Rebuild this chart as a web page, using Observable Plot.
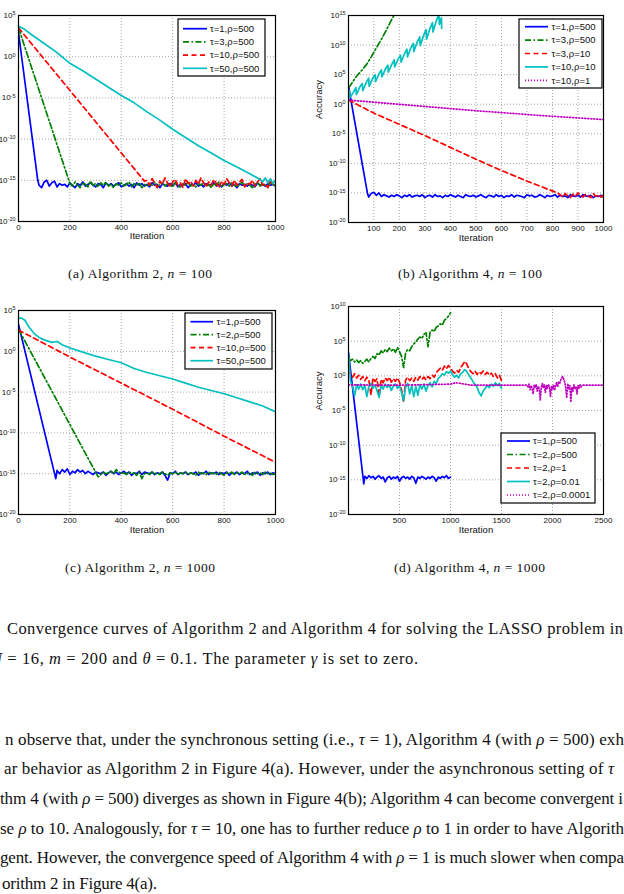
<!DOCTYPE html>
<html><head><meta charset="utf-8">
<script src="https://cdn.jsdelivr.net/npm/d3@7"></script>
<script src="https://cdn.jsdelivr.net/npm/@observablehq/plot@0.6"></script>
<style>
html,body{margin:0;padding:0;background:#fff;}
#page{position:relative;width:624px;height:894px;overflow:hidden;background:#fff;}
.panel{position:absolute;}
#txt{position:absolute;left:0;top:0;}
#txt text{font-family:"Liberation Serif","Times New Roman",serif;fill:#111;}
</style></head><body>
<div id="page">
<svg id="txt" width="624" height="894">
  <text x="68" y="278" font-size="13.5" textLength="144" lengthAdjust="spacing">(a)  Algorithm 2, <tspan font-style="italic">n</tspan> = 100</text>
  <text x="398" y="278" font-size="13.5" textLength="144" lengthAdjust="spacing">(b)  Algorithm 4, <tspan font-style="italic">n</tspan> = 100</text>
  <text x="65" y="572" font-size="13.5" textLength="150" lengthAdjust="spacing">(c)  Algorithm 2, <tspan font-style="italic">n</tspan> = 1000</text>
  <text x="394" y="572" font-size="13.5" textLength="151" lengthAdjust="spacing">(d)  Algorithm 4, <tspan font-style="italic">n</tspan> = 1000</text>
  <text x="7" y="634" font-size="16.5" textLength="616" lengthAdjust="spacing">Convergence curves of Algorithm 2 and Algorithm 4 for solving the LASSO problem in</text>
  <text x="-9" y="664" font-size="16.5" textLength="427" lengthAdjust="spacing"><tspan font-style="italic">N</tspan> = 16, <tspan font-style="italic">m</tspan> = 200 and <tspan font-style="italic">θ</tspan> = 0.1. The parameter <tspan font-style="italic">γ</tspan> is set to zero.</text>
  <text x="5" y="745" font-size="17" textLength="619" lengthAdjust="spacing">n observe that, under the synchronous setting (i.e., <tspan font-style="italic">τ</tspan> = 1), Algorithm 4 (with <tspan font-style="italic">ρ</tspan> = 500) exh</text>
  <text x="4" y="774" font-size="17" textLength="610" lengthAdjust="spacing">ar behavior as Algorithm 2 in Figure 4(a). However, under the asynchronous setting of <tspan font-style="italic">τ</tspan></text>
  <text x="0" y="804" font-size="17" textLength="623" lengthAdjust="spacing">thm 4 (with <tspan font-style="italic">ρ</tspan> = 500) diverges as shown in Figure 4(b); Algorithm 4 can become convergent i</text>
  <text x="0" y="834" font-size="17" textLength="624" lengthAdjust="spacing">se <tspan font-style="italic">ρ</tspan> to 10. Analogously, for <tspan font-style="italic">τ</tspan> = 10, one has to further reduce <tspan font-style="italic">ρ</tspan> to 1 in order to have Algorith</text>
  <text x="0" y="863" font-size="17" textLength="624" lengthAdjust="spacing">gent. However, the convergence speed of Algorithm 4 with <tspan font-style="italic">ρ</tspan> = 1 is much slower when compa</text>
  <text x="2" y="889" font-size="17" textLength="155" lengthAdjust="spacing">orithm 2 in Figure 4(a).</text>
</svg>
</div>
<script>
// ===== DATA (values are log10 of Accuracy; iterations on x) =====
const noiseStep = 10;
const noiseStepD = 20;

// Panel (a): Algorithm 2, n = 100
const aXTicks = [0, 200, 400, 600, 800, 1000];
const aYTicks = [-20, -15, -10, -5, 0, 5];
const aLabels = ["τ=1,ρ=500", "τ=3,ρ=500", "τ=10,ρ=500", "τ=50,ρ=500"];
const a1Trend = [[0, 2.9], [75, -15.0]];
const a1NoiseStart = 80;
const a1Noise = [-15.6,-15.9,-15.2,-15.0,-15.7,-15.3,-15.1,-15.8,-15.4,-15.6,
  -15.5,-15.8,-15.3,-15.6,-15.9,-15.4,-15.6,-15.2,-15.7,-15.5,
  -15.3,-15.6,-15.8,-15.4,-15.5,-15.9,-15.3,-15.6,-15.4,-15.7,
  -15.5,-15.3,-15.8,-15.6,-15.4,-15.7,-15.5,-15.9,-15.3,-15.6,
  -15.4,-15.7,-15.5,-15.8,-15.3,-15.6,-15.5,-15.9,-15.4,-15.6,
  -15.7,-15.4,-15.6,-15.3,-15.8,-15.5,-15.6,-15.4,-15.9,-15.5,
  -15.6,-15.3,-15.7,-15.5,-15.8,-15.4,-15.6,-15.5,-15.3,-15.7,
  -15.5,-15.8,-15.4,-15.6,-15.3,-15.7,-15.5,-15.9,-15.4,-15.6,
  -15.5,-15.7,-15.4,-15.6,-15.8,-15.3,-15.6,-15.5,-15.7,-15.4,
  -15.6,-15.5,-15.7];
const a2Trend = [[0, 3.5], [200, -15.4]];
const a2NoiseStart = 210;
const a2Noise = [-15.7,-15.2,-15.6,-15.9,-15.3,-15.5,-15.8,-15.1,-15.6,-15.4,
  -15.8,-15.3,-15.6,-15.2,-15.7,-15.5,-15.9,-15.4,-15.6,-15.3,
  -15.7,-15.5,-15.2,-15.8,-15.4,-15.6,-15.3,-15.9,-15.5,-15.7,
  -15.4,-15.6,-15.2,-15.8,-15.5,-15.3,-15.7,-15.4,-15.6,-15.8,
  -15.3,-15.5,-15.9,-15.4,-15.6,-15.2,-15.7,-15.5,-15.8,-15.4,
  -15.6,-15.3,-15.7,-15.5,-15.9,-15.4,-15.6,-15.2,-15.8,-15.5,
  -15.4,-15.7,-15.3,-15.6,-15.8,-15.5,-15.2,-15.7,-15.4,-15.6,
  -15.9,-15.5,-15.3,-15.7,-15.4,-15.6,-15.8,-15.3,-15.5,-15.7];
const a3Trend = [[0, 3.5], [490, -15.1]];
const a3NoiseStart = 500;
const a3Noise = [-15.0,-15.6,-14.8,-15.4,-15.9,-15.1,-15.5,-14.7,-15.3,-15.8,
  -15.2,-14.9,-15.6,-15.3,-15.9,-14.8,-15.4,-15.1,-15.7,-15.0,
  -15.5,-14.7,-15.3,-15.8,-15.2,-15.6,-14.9,-15.4,-15.9,-15.1,
  -15.5,-14.8,-15.3,-15.7,-15.0,-15.6,-15.2,-14.9,-15.8,-15.3,
  -15.5,-15.0,-15.7,-15.2,-14.8,-15.6,-15.4,-15.9,-15.1,-15.5,
  -15.3];
const a4Trend = [[0,3.7],[20,3.4],[50,2.7],[100,1.6],[150,0.5],[200,-0.8],[250,-1.7],[300,-2.7],[350,-3.7],[400,-4.7],[450,-5.6],[500,-6.7],[550,-7.7],[600,-8.8],[650,-9.8],[700,-10.8],[750,-11.7],[800,-12.6],[850,-13.4],[900,-14.2],[940,-14.9]];
const a4NoiseStart = 950;
const a4Noise = [-15.2,-14.7,-15.3,-14.8,-15.4,-15.0];

// Panel (b): Algorithm 4, n = 100
const bXTicks = [100, 200, 300, 400, 500, 600, 700, 800, 900, 1000];
const bYTicks = [-20, -15, -10, -5, 0, 5, 10, 15];
const bLabels = ["τ=1,ρ=500", "τ=3,ρ=500", "τ=3,ρ=10", "τ=10,ρ=10", "τ=10,ρ=1"];
const b1Trend = [[1, 3.0], [75, -15.0]];
const b1NoiseStart = 80;
const b1Noise = [-15.7,-15.1,-14.9,-15.4,-15.0,-15.6,-15.3,-15.5,-15.7,-15.4,
  -15.6,-15.3,-15.5,-15.8,-15.4,-15.6,-15.3,-15.7,-15.5,-15.4,
  -15.6,-15.3,-15.8,-15.5,-15.4,-15.7,-15.3,-15.6,-15.5,-15.8,
  -15.4,-15.6,-15.3,-15.5,-15.7,-15.4,-15.6,-15.8,-15.3,-15.5,
  -15.6,-15.4,-15.7,-15.5,-15.3,-15.6,-15.8,-15.4,-15.5,-15.7,
  -15.3,-15.6,-15.4,-15.8,-15.5,-15.6,-15.3,-15.7,-15.4,-15.5,
  -15.6,-15.8,-15.3,-15.5,-15.4,-15.7,-15.6,-15.3,-15.5,-15.8,
  -15.4,-15.6,-15.5,-15.3,-15.7,-15.4,-15.6,-15.5,-15.8,-15.3,
  -15.5,-15.6,-15.4,-15.7,-15.3,-15.5,-15.6,-15.4,-15.8,-15.5,
  -15.6,-15.4,-15.7];
const b2Trend = [[1,2.8],[10,3.3],[30,4.6],[50,5.6],[70,6.6],[90,8.0],[110,9.5],[130,11.0],[150,12.6],[170,14.3],[190,15.9]];
const b3Trend = [[1,0.7],[100,-1.5],[200,-3.4],[300,-5.3],[400,-7.3],[500,-9.3],[600,-11.2],[700,-13.0],[820,-15.0]];
const b3NoiseStart = 830;
const b3Noise = [-15.3,-15.7,-15.1,-15.5,-15.8,-15.2,-15.6,-15.0,-15.4,-15.7,-15.2,-15.5,-15.8,-15.1,-15.6,-15.3,-15.7,-15.4];
const b4Trend = [[1,1.0],[5,2.3],[8,1.2],[20,2.0],[30,2.8],[32,1.6],[45,2.9],[55,3.5],[57,2.3],[70,3.6],[80,4.4],[82,3.0],[95,4.3],[105,5.0],[107,3.8],[120,5.1],[130,5.8],[132,4.6],[145,5.9],[155,6.6],[157,5.4],[170,6.7],[180,7.5],[182,6.3],[195,7.6],[205,8.3],[207,7.1],[220,8.5],[230,9.3],[232,8.0],[245,9.5],[255,10.3],[257,8.9],[270,10.5],[280,11.4],[282,9.9],[295,11.6],[305,12.6],[307,11.0],[320,12.8],[330,13.8],[332,12.2],[345,14.1],[355,15.2],[357,13.5],[365,14.6],[366,12.8]];
const b5Trend = [[1,0.7],[250,-0.2],[500,-1.1],[750,-1.9],[1000,-2.6]];

// Panel (c): Algorithm 2, n = 1000
const cXTicks = [0, 200, 400, 600, 800, 1000];
const cYTicks = [-20, -15, -10, -5, 0, 5];
const cLabels = ["τ=1,ρ=500", "τ=2,ρ=500", "τ=10,ρ=500", "τ=50,ρ=500"];
const c1Trend = [[0, 3.3], [145, -15.6]];
const c1NoiseStart = 150;
const c1Noise = [-14.6,-15.0,-14.5,-14.8,-14.4,-15.1,-14.7,-14.9,-14.5,-14.8,
  -14.6,-15.0,-14.7,-14.9,-15.1,-14.8,-14.9,-15.0,-14.8,-15.2,
  -14.9,-14.7,-15.0,-14.8,-15.1,-14.9,-14.7,-15.0,-14.8,-15.2,
  -14.9,-15.0,-14.7,-15.1,-14.8,-14.9,-15.0,-14.8,-15.1,-14.9,
  -15.0,-14.8,-15.2,-15.8,-14.9,-15.0,-14.7,-15.1,-14.9,-15.0,
  -14.8,-15.1,-14.9,-15.0,-14.8,-15.2,-14.9,-15.0,-14.7,-15.1,
  -14.9,-15.0,-14.8,-15.1,-14.9,-15.0,-14.8,-15.2,-14.9,-15.0,
  -14.8,-15.1,-14.9,-15.0,-14.7,-15.1,-14.9,-15.0,-14.8,-15.2,
  -14.9,-15.0,-14.8,-15.1,-14.9,-15.0];
const c2Trend = [[0, 2.7], [310, -15.4]];
const c2NoiseStart = 320;
const c2Noise = [-15.1,-14.8,-15.0,-14.9,-14.7,-15.0,-14.5,-14.8,-15.0,-14.9,
  -15.1,-14.8,-15.0,-14.9,-15.2,-14.8,-15.6,-15.0,-14.9,-15.1,
  -14.8,-15.0,-14.9,-15.1,-14.8,-15.0,-15.2,-14.9,-15.0,-14.8,
  -15.1,-14.9,-15.0,-14.8,-15.1,-14.9,-15.0,-15.2,-14.8,-15.0,
  -14.9,-15.1,-14.8,-15.0,-14.9,-15.1,-14.8,-15.0,-15.2,-14.9,
  -15.0,-14.8,-15.1,-14.9,-15.0,-14.8,-15.1,-15.0,-14.9,-15.2,
  -14.8,-15.0,-14.9,-15.1,-14.8,-15.0,-14.9,-15.1,-15.0];
const c3Trend = [[0,2.6],[200,-0.7],[400,-3.9],[600,-7.1],[800,-10.4],[1000,-13.6]];
const c4Trend = [[0,4.0],[10,4.1],[25,3.8],[40,3.0],[60,2.2],[80,1.7],[100,1.4],[130,1.1],[150,1.2],[170,0.8],[200,0.4],[250,-0.1],[300,-0.6],[350,-1.0],[400,-1.4],[450,-2.1],[500,-2.6],[550,-3.0],[600,-3.4],[650,-3.9],[700,-4.4],[750,-4.8],[800,-5.2],[850,-5.7],[900,-6.2],[950,-6.7],[1000,-7.4]];

// Panel (d): Algorithm 4, n = 1000
const dXTicks = [500, 1000, 1500, 2000, 2500];
const dYTicks = [-20, -15, -10, -5, 0, 5, 10];
const dLabels = ["τ=1,ρ=500", "τ=2,ρ=500", "τ=2,ρ=1", "τ=2,ρ=0.01", "τ=2,ρ=0.0001"];
const d1Trend = [[0, 3.3], [150, -15.6]];
const d1NoiseStart = 160;
const d1Noise = [-14.5,-14.8,-14.4,-14.7,-14.5,-14.9,-14.6,-14.4,-14.8,-14.6,-15.3,-14.7,-14.5,-14.9,-14.6,-14.8,-14.5,-15.2,-14.7,-14.5,-14.8,-14.6,-14.9,-14.5,-14.7,-15.5,-14.6,-14.8,-14.5,-14.7,-14.9,-14.6,-14.8,-14.5,-14.7,-15.2,-14.6,-14.8,-14.5,-14.7,-14.4,-14.8,-14.6];
const d2NoiseStart = 0;
const d2Noise = [2.6,2.2,2.4,2.0,2.3,1.9,2.2,1.8,2.1,2.4,2.0,2.5,2.8,2.5,3.2,3.0,3.6,3.3,3.8,3.5,4.0,3.6,3.9,3.4,4.1,3.5,2.8,1.2,3.3,3.8,3.6,4.2,4.6,4.9,5.3,5.6,5.4,6.0,6.2,4.2,6.3,6.6,6.4,7.0,7.2,7.5,7.3,8.0,8.3,8.6,9.1];
const d3NoiseStart = 0;
const d3Noise = [1.0,0.4,-0.2,0.3,-0.3,0.1,-0.5,-0.1,-0.7,-0.2,-0.6,-2.8,-0.3,-0.8,-0.4,-3.0,-0.5,-1.0,-0.3,-0.7,-0.2,-0.9,-0.4,-0.8,-0.3,-0.9,-2.0,-3.8,-0.6,-0.2,-0.7,-0.3,-0.8,-0.2,-0.6,-0.1,-0.5,-0.2,-0.6,-0.1,-0.4,0.1,-0.2,0.4,0.8,1.1,0.8,1.4,1.0,1.5,1.1,0.7,0.4,0.8,0.5,1.2,1.6,2.1,1.7,1.0,0.6,0.3,0.7,0.2,0.6,0.3,0.7,0.2,0.5,0.1,0.4,-0.1,0.3,-0.3,0.1,-0.7];
const d4NoiseStart = 0;
const d4Noise = [3.4,-0.8,-1.5,-2.9,-1.3,-1.9,-1.2,-2.0,-1.4,-3.0,-1.5,-1.1,-1.8,-1.3,-2.2,-3.1,-1.4,-1.9,-1.2,-1.7,-1.3,-2.1,-1.5,-1.2,-1.8,-1.4,-2.4,-3.6,-1.6,-1.1,-2.6,-1.4,-3.0,-1.5,-2.8,-1.3,-1.9,-1.2,-2.2,-1.4,-1.0,-1.6,-0.8,-1.1,-0.4,-0.1,0.3,0.1,0.6,0.4,0.7,0.2,-0.2,0.1,-0.3,0.3,0.5,0.9,0.6,0.1,-0.3,-0.8,-1.2,-1.6,-2.4,-2.9,-2.2,-1.8,-1.4,-1.7,-1.2,-1.5,-1.0,-1.4,-1.1,-1.8];
const d5Trend = [[0,-1.3],[500,-1.35],[1000,-1.2],[1050,-1.0],[1100,-1.1],[1200,-1.35],[1750,-1.35]];
const d5NoiseStart = 1760;
const d5Noise = [-1.6,-1.2,-2.0,-1.4,-1.8,-2.6,-1.3,-1.7,-1.2,-2.2,-1.5,-1.9,-3.5,-1.6,-1.1,-1.7,-1.3,-2.4,-1.4,-1.8,-1.2,-1.6,-3.0,-1.5,-1.9,-1.3,-2.1,-1.4,-1.0,-1.6,-0.8,-1.2,-0.6,-0.3,-0.1,-0.5,-0.9,-1.8,-3.2,-1.1,-2.0,-1.4,-3.8,-1.6,-2.2,-1.3,-1.9,-1.5,-2.6,-1.4,-1.8,-1.3,-1.6,-1.4];
const d5Tail = [[2300,-1.35],[2500,-1.35]];

// ===== helpers =====
const seq = (start, step, vals) => vals.map((v, i) => [start + i * step, v]);
const COLORS = ["#0000ff", "#008000", "#ff0000", "#00bfbf", "#bf00bf"];
const DASHES = [null, "6,2.5,1.5,2.5", "5,3.5", null, "1,2"];
const SANS = "'Liberation Sans', Arial, Helvetica, sans-serif";

function makePanel(cfg) {
  const lineMarks = cfg.series.map((s, i) => {
    const o = {x: d => d[0], y: d => d[1], stroke: COLORS[i], strokeWidth: 1.7, clip: true};
    if (DASHES[i]) o.strokeDasharray = DASHES[i];
    return Plot.line(s, o);
  });
  const marks = [
    Plot.ruleX(cfg.xTicks, {stroke: "#8f8f8f", strokeDasharray: "1,2", strokeWidth: 0.8}),
    Plot.ruleY(cfg.yTicks, {stroke: "#8f8f8f", strokeDasharray: "1,2", strokeWidth: 0.8}),
    ...lineMarks,
    Plot.frame({stroke: "#000", strokeWidth: 1.2}),
    Plot.text(["Iteration"], {text: d => d, frameAnchor: "bottom", dy: cfg.xLabelDy, fontSize: 9.5})
  ];
  if (cfg.yLabel) marks.push(Plot.text([cfg.yLabel], {text: d => d, frameAnchor: "left", dx: -30, rotate: -90, fontSize: 9.5}));
  const plot = Plot.plot({
    width: cfg.width, height: cfg.height,
    marginLeft: cfg.m[3], marginRight: cfg.m[1], marginTop: cfg.m[0], marginBottom: cfg.m[2],
    style: {fontFamily: SANS, fontSize: "8px", background: "transparent", color: "#111"},
    x: {domain: cfg.xDomain, ticks: cfg.xTicks, tickFormat: d => String(d), tickSize: 0, tickPadding: 3, label: null},
    y: {domain: cfg.yDomain, ticks: cfg.yTicks, tickFormat: d => "10^" + d, tickSize: 0, tickPadding: 3, label: null},
    marks
  });
  const svg = d3.select(plot);
  svg.selectAll("text").each(function () {
    const m = /^10\^(-?\d+)$/.exec(this.textContent);
    if (!m) return;
    const t = d3.select(this);
    t.text("");
    t.append("tspan").text("10");
    t.append("tspan").attr("dy", "-0.5em").attr("font-size", "5.5px").text(m[1]);
  });
  const lg = cfg.legend;
  const g = svg.append("g").attr("text-anchor", "start");
  g.append("rect").attr("x", lg.x).attr("y", lg.y).attr("width", lg.w).attr("height", lg.h)
    .attr("fill", "#fff").attr("stroke", "#000").attr("stroke-width", 1.2);
  cfg.labels.forEach((lab, i) => {
    const yy = lg.y0 + i * lg.dy;
    const ln = g.append("line").attr("x1", lg.sx0).attr("x2", lg.sx1).attr("y1", yy).attr("y2", yy)
      .attr("stroke", COLORS[i]).attr("stroke-width", 1.7);
    if (DASHES[i]) ln.attr("stroke-dasharray", DASHES[i]);
    g.append("text").attr("x", lg.tx).attr("y", yy).attr("dy", "0.35em").attr("text-anchor", "start")
      .attr("font-size", 9.5).attr("font-family", SANS).attr("fill", "#111").text(lab);
  });
  const div = document.createElement("div");
  div.className = "panel";
  div.style.left = cfg.left + "px";
  div.style.top = cfg.top + "px";
  div.appendChild(plot);
  document.getElementById("page").appendChild(div);
}

makePanel({
  left: 0, top: 0, width: 300, height: 250, m: [15, 25, 29, 18],
  xDomain: [0, 1000], xTicks: aXTicks, yDomain: [-20, 5], yTicks: aYTicks,
  series: [a1Trend.concat(seq(a1NoiseStart, noiseStep, a1Noise)),
           a2Trend.concat(seq(a2NoiseStart, noiseStep, a2Noise)),
           a3Trend.concat(seq(a3NoiseStart, noiseStep, a3Noise)),
           a4Trend.concat(seq(a4NoiseStart, noiseStep, a4Noise))],
  labels: aLabels, xLabelDy: 17,
  legend: {x: 178, y: 19, w: 87, h: 57, y0: 28.7, dy: 13.2, sx0: 183, sx1: 207, tx: 210}
});

makePanel({
  left: 300, top: 0, width: 324, height: 250, m: [15, 21, 28, 48],
  xDomain: [1, 1000], xTicks: bXTicks, yDomain: [-20, 15], yTicks: bYTicks,
  series: [b1Trend.concat(seq(b1NoiseStart, noiseStep, b1Noise)),
           b2Trend,
           b3Trend.concat(seq(b3NoiseStart, noiseStep, b3Noise)),
           b4Trend,
           b5Trend],
  labels: bLabels, xLabelDy: 18.5, yLabel: "Accuracy",
  legend: {x: 219, y: 19, w: 83, h: 69, y0: 26.7, dy: 13.4, sx0: 225, sx1: 248, tx: 251.5}
});

makePanel({
  left: 0, top: 290, width: 300, height: 250, m: [20, 25, 26, 18],
  xDomain: [0, 1000], xTicks: cXTicks, yDomain: [-20, 5], yTicks: cYTicks,
  series: [c1Trend.concat(seq(c1NoiseStart, noiseStep, c1Noise)),
           c2Trend.concat(seq(c2NoiseStart, noiseStep, c2Noise)),
           c3Trend,
           c4Trend],
  labels: cLabels, xLabelDy: 18.5,
  legend: {x: 185, y: 23, w: 87, h: 56, y0: 31.7, dy: 13, sx0: 190.5, sx1: 213, tx: 216.5}
});

makePanel({
  left: 300, top: 290, width: 324, height: 250, m: [16, 21, 26, 48],
  xDomain: [0, 2500], xTicks: dXTicks, yDomain: [-20, 10], yTicks: dYTicks,
  series: [d1Trend.concat(seq(d1NoiseStart, noiseStepD, d1Noise)),
           seq(d2NoiseStart, noiseStepD, d2Noise),
           seq(d3NoiseStart, noiseStepD, d3Noise),
           seq(d4NoiseStart, noiseStepD, d4Noise),
           d5Trend.concat(seq(d5NoiseStart, noiseStep, d5Noise), d5Tail)],
  labels: dLabels, xLabelDy: 18.5, yLabel: "Accuracy",
  legend: {x: 201, y: 143, w: 94, h: 70, y0: 151, dy: 13.5, sx0: 207, sx1: 230, tx: 233}
});
</script>
</body></html>
